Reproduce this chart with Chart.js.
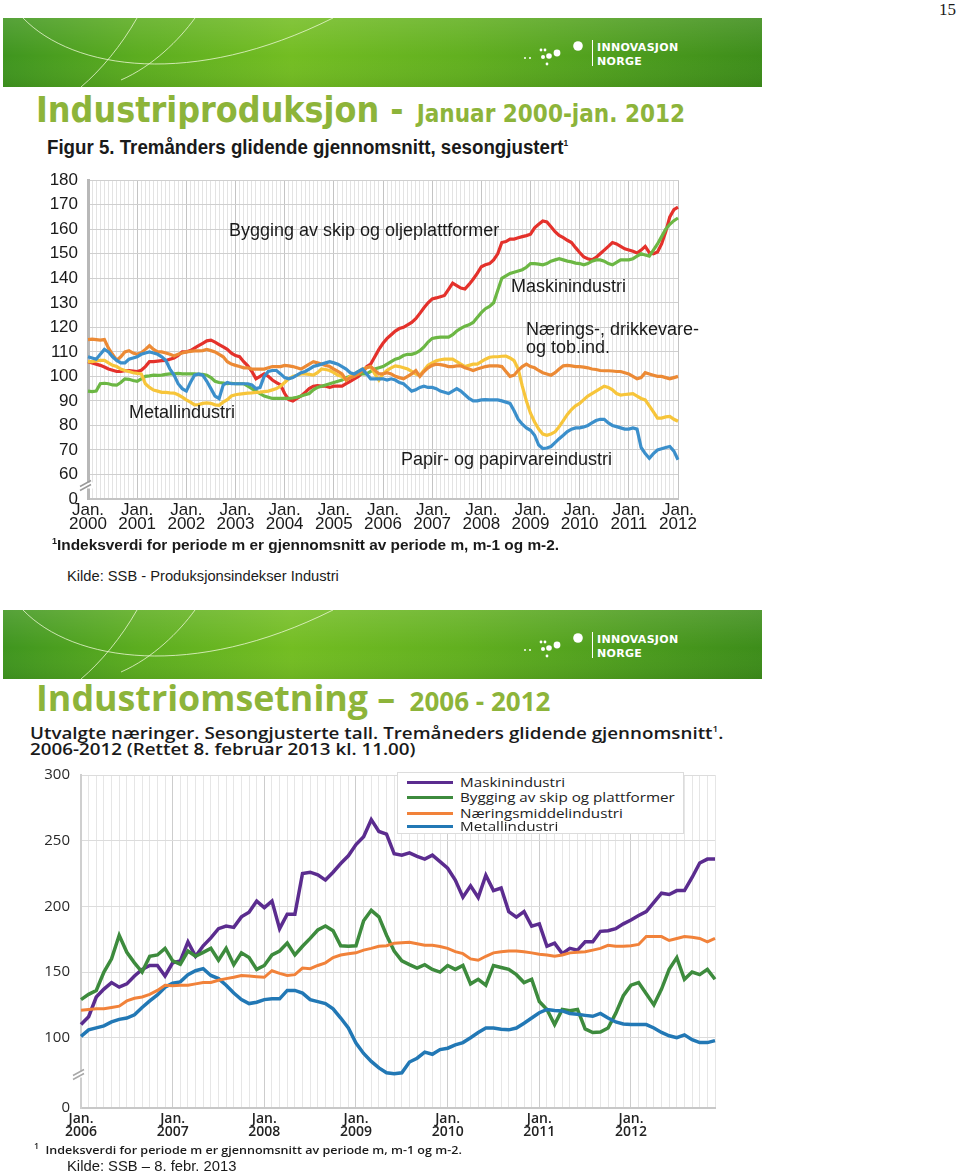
<!DOCTYPE html>
<html lang="no">
<head>
<meta charset="UTF-8">
<title>Industriproduksjon og industriomsetning</title>
<script src="https://cdn.jsdelivr.net/npm/chart.js"></script>
<style>
    html, body { margin: 0; padding: 0; background: #fff; }
    body { position: relative; width: 960px; height: 1173px; overflow: hidden; font-family: 'Liberation Sans', Arial, sans-serif; color: #1a1a1a; }
    .abs { position: absolute; white-space: nowrap; }
    .wide { transform-origin: 0 50%; }
    .banner { position: absolute; left: 3px; width: 759px; height: 69px; }
    .title1 { font-family: 'DejaVu Sans Condensed', 'DejaVu Sans', sans-serif; font-stretch: condensed; font-weight: bold; color: #8db43a; font-size: 35.5px; line-height: 35.5px; }
    .title1 small { font-size: 24px; margin-left: 2px; }
    .title2 { font-family: 'Open Sans', sans-serif; font-weight: 700; color: #8db43a; font-size: 35.8px; line-height: 42px; }
    .title2 small { font-size: 26px; margin-left: 5px; }
    .note { font-size: 18px; line-height: 1.2; color: #1a1a1a; }
    .legend { position: absolute; left: 397px; top: 772px; width: 285px; height: 60px; background: #fff; border: 1px solid #dcdcdc; }
    .legend span { position: absolute; left: 9px; width: 46px; height: 3px; }
    .legend div { position: absolute; left: 62px; line-height: 15px; white-space: nowrap; font-family: 'Open Sans', sans-serif; font-size: 13px; color: #222; transform: scaleX(1.17); transform-origin: 0 50%; }
</style>
</head>
<body>

<div class="abs" style="left:939px; top:0px; font-family:'Liberation Serif', serif; font-size:17px;">15</div>

<div class="banner" style="top:18px;"></div>
<div class="abs title1" style="left:36px; top:91.5px;">Industriproduksjon - <small>Januar 2000-jan. 2012</small></div>
<div class="abs wide" style="left:47px; top:135px; font-weight:bold; font-size:20px; line-height:1.2; transform:scaleX(0.935);">Figur 5. Tremånders glidende gjennomsnitt, sesongjustert<sup style="font-size:9px;">1</sup></div>

<canvas id="prodChart" class="abs" width="670" height="380" style="left:40px; top:160px;"></canvas>

<div class="abs note" style="left:229px; top:220px;">Bygging av skip og oljeplattformer</div>
<div class="abs note" style="left:511px; top:276px;">Maskinindustri</div>
<div class="abs note" style="left:526px; top:319px;">Nærings-, drikkevare-</div>
<div class="abs note" style="left:526px; top:337px;">og tob.ind.</div>
<div class="abs note" style="left:129px; top:402px;">Metallindustri</div>
<div class="abs note" style="left:401px; top:449px;">Papir- og papirvareindustri</div>

<div class="abs" style="left:52px; top:536px; font-size:15.4px; font-weight:bold; line-height:1.2;"><sup style="font-size:9px;">1</sup>Indeksverdi for periode m er gjennomsnitt av periode m, m-1 og m-2.</div>
<div class="abs" style="left:67px; top:568px; font-size:14.7px; line-height:1.2;">Kilde: SSB - Produksjonsindekser Industri</div>

<div class="banner" style="top:610px;"></div>
<div class="abs title2" style="left:36px; top:676px;">Industriomsetning – <small>2006 - 2012</small></div>
<div class="abs wide" style="left:30px; top:721px; font-family:'Open Sans', sans-serif; font-weight:600; font-size:17px; line-height:16px; transform:scaleX(1.105);">Utvalgte næringer. Sesongjusterte tall. Tremåneders glidende gjennomsnitt<sup style="font-size:9px;">1</sup>.<br>2006-2012 (Rettet 8. februar 2013 kl. 11.00)</div>

<canvas id="turnChart" class="abs" width="700" height="400" style="left:30px; top:755px;"></canvas>

<div class="legend">
    <span style="top:8px; background:#5b2c8f;"></span><div style="top:2px;">Maskinindustri</div>
    <span style="top:23px; background:#3d8b3d;"></span><div style="top:17px;">Bygging av skip og plattformer</div>
    <span style="top:39px; background:#f1823a;"></span><div style="top:33px;">Næringsmiddelindustri</div>
    <span style="top:52px; background:#2278b5;"></span><div style="top:46px;">Metallindustri</div>
</div>

<div class="abs wide" style="left:34px; top:1141px; font-family:'Open Sans', sans-serif; font-weight:600; font-size:11.5px; line-height:1.2; transform:scaleX(1.09);"><sup style="font-size:8px;">1</sup>&nbsp; Indeksverdi for periode m er gjennomsnitt av periode m, m-1 og m-2.</div>
<div class="abs" style="left:67px; top:1158px; font-size:14.8px; line-height:1.2;">Kilde: SSB – 8. febr. 2013</div>

<script>
// Figur 5: produksjonsindeks, jan 2000 - jan 2012 (månedlig)
const prodYears = [2000, 2001, 2002, 2003, 2004, 2005, 2006, 2007, 2008, 2009, 2010, 2011, 2012];

const prodShip = [
    106, 105.5, 105, 104.5, 103.8, 103, 102.5, 102, 102, 102.3, 102.4, 102.2,
    102, 102.5, 104, 106, 106, 106.2, 106.4, 106.5, 107, 107.5, 108.5, 110,
    110, 110.5, 111.5, 112.5, 113.5, 114.5, 114.8, 114, 113, 112, 111, 109.5,
    108.5, 108, 106, 104.3, 102, 99, 100, 101, 100, 98.5, 97.5, 96.5,
    93, 90.5, 90, 91, 92, 93.5, 95, 96, 96.2, 96, 96, 95.5,
    96, 96, 96, 97, 98, 99, 100, 101.5, 104, 105, 108, 111,
    113.5, 115.5, 117, 118.5, 119.5, 120, 121, 122, 123.5, 125.7, 128, 130,
    131.6, 132, 132.5, 133, 135.5, 138, 137, 136, 135.6, 137.5, 139.6, 142,
    144.7, 145.5, 146, 147.5, 150, 154.6, 155, 156, 156, 156.5, 157, 157.4,
    158, 160.6, 162, 163.4, 163, 161, 159, 157.5, 156.6, 155.5, 154.6, 152.5,
    150.5, 148.7, 148, 147.5, 148.5, 150, 151.5, 153, 154.6, 154, 153, 152,
    151.5, 151, 150.3, 151.5, 153, 150.5, 150, 150.7, 154, 159, 165, 168,
    169
];

const prodMachine = [
    94, 93.8, 94, 97, 97.2, 97, 96.5, 96.4, 97.5, 99, 98.8, 98.3,
    98, 99, 100, 100.2, 100.5, 100.4, 100.5, 100.8, 101, 101, 101.2, 101,
    101, 101, 101, 100.8, 100.8, 100.5, 99.5, 98, 97.5, 97.3, 97, 97.2,
    97, 97, 97, 96, 95, 94, 93, 92, 91.5, 91, 91, 91,
    91, 91, 91.2, 91.5, 92, 92.5, 93, 94.5, 95.5, 96, 96.5, 97,
    97.5, 98, 98.5, 99.5, 100, 100.5, 101, 101, 101, 102, 103, 103.5,
    104, 105, 106, 107, 107.5, 108.5, 109, 109, 109.5, 110.5, 112, 114,
    115.5, 115.8, 116, 116, 116, 117, 118.5, 119.6, 120.5, 121, 122, 124,
    126, 127.6, 128.5, 130, 135, 140, 141, 142, 142.5, 143, 143.5, 144.5,
    146, 146, 145.8, 145.5, 146, 147, 147.5, 148, 147.5, 147, 146.7, 146.2,
    146, 145.5, 146, 147, 147.5, 147.5, 147, 146, 145.5, 146.5, 147.5, 147.5,
    147.5, 148, 149, 150, 149.5, 149, 151.5, 154, 157, 160, 162, 163.5,
    164.6
];

const prodFood = [
    115, 115.2, 115, 114.8, 115, 111.5, 109, 106.6, 108, 110, 110.5, 109.5,
    109, 109.6, 111, 112.5, 111, 110, 110, 109.5, 109, 108.3, 109, 109.5,
    110, 110.2, 110.4, 110.4, 110.5, 111, 110.5, 110, 109, 108, 106, 105,
    104.5, 104, 103.5, 103.5, 103, 103, 103, 103, 103.5, 104, 104, 104,
    104.5, 104.3, 104, 103.5, 103, 104, 105, 106, 105.5, 105, 104.5, 104,
    103, 102, 101, 98.5, 99.5, 100, 101, 102.5, 103.5, 104, 102.5, 101,
    101, 101.5, 101, 100, 99.5, 99, 100, 101, 102.4, 100, 102, 103.5,
    104.5, 105, 104.8, 104.5, 104, 104, 104.3, 104.3, 103.5, 103, 102.4, 103,
    103.5, 104, 104.3, 104.3, 104.3, 104, 102, 100, 100.5, 102.5, 104, 105,
    104, 103.5, 102.4, 101.5, 101, 100.5, 101.5, 103, 104.3, 104.5, 104.3, 104,
    104, 103.8, 103.5, 103, 102.8, 102.4, 102.3, 102.3, 102.2, 102, 102, 101.5,
    101, 100, 99, 99.5, 101.5, 101, 100.5, 100, 100, 99.5, 99, 99.5,
    100
];

const prodMetal = [
    106, 106, 106.3, 106.5, 106.5, 105.5, 104.5, 104, 103, 102.4, 102, 101.5,
    101.2, 101, 97, 95.5, 94.4, 94, 93.5, 93.5, 93.3, 93.2, 92.5, 91.5,
    90.4, 89.5, 88.4, 88.5, 89, 89.2, 89, 88.4, 88.2, 89.5, 90.5, 92,
    92.5, 92.8, 93, 93.2, 93.3, 93.5, 93.6, 93.8, 94, 94.5, 95, 96,
    97.5, 99, 100, 100.5, 101, 101, 100.8, 100.5, 101.5, 103, 102.8, 102.4,
    101.5, 100.5, 100, 98.5, 100, 101, 102, 103, 103.5, 104, 101, 98.5,
    101, 102.5, 103.5, 104.3, 104, 103.5, 103, 102, 101, 100.5, 102.5, 104.5,
    105.5, 106.4, 106.8, 107, 107, 107, 106, 105, 104, 104.5, 105, 105,
    106, 107, 107.8, 108, 108, 108.2, 108.3, 107.5, 106.4, 103, 96, 90,
    85, 81.4, 78.5, 76.5, 76, 76.5, 77.4, 79.5, 82, 84.5, 86.5, 88,
    89, 90.5, 92, 93, 94, 95, 96, 95.5, 94.5, 93, 92.4, 92.6,
    92.8, 93, 92, 91, 90.4, 88, 85.5, 83, 83, 83.5, 83.7, 82.5,
    81.7
];

const prodPaper = [
    108, 107.5, 107, 109, 111, 110, 108, 106.5, 105.5, 105.5, 107, 107.5,
    108, 109, 109.5, 110, 109.5, 109, 108, 106.5, 103, 100.5, 97, 95,
    94, 97.5, 100.5, 101, 100.5, 98, 95, 92, 91, 96.5, 97.5, 97,
    97, 97, 97, 97, 96.5, 95, 95.5, 100, 102, 102.4, 102.4, 101,
    99.5, 99, 99.5, 100.5, 101.5, 102, 103, 104, 104.5, 105, 105.5, 106,
    105.5, 105, 104, 103, 101.5, 101, 102, 103, 101, 99, 99, 99,
    99, 98.5, 99, 98.5, 97.5, 97, 95.5, 94, 94.5, 95.5, 96, 95.5,
    95.5, 95, 94, 93.5, 93, 94, 95, 94, 92.5, 91, 90, 90,
    90.4, 90.5, 90.4, 90.4, 90.4, 90, 89.5, 89, 86, 82.5, 80.5, 79,
    78, 76, 72, 70.6, 70.8, 71.4, 73, 74.6, 76, 77.5, 78.5, 79,
    79, 79.4, 80, 81, 82, 82.5, 82.5, 81, 80, 79.5, 79, 78.5,
    78.5, 79, 78.5, 71, 68.5, 66.6, 68.5, 70, 70.5, 71, 71.4, 69.5,
    66
];

// Industriomsetning: jan 2006 - des 2012 (månedlig)
const turnYears = [2006, 2007, 2008, 2009, 2010, 2011, 2012];

const turnMachine = [
    110, 116, 131, 137, 142, 138.5, 141, 147, 152, 155, 155, 147,
    157, 158.5, 173, 162, 170, 176, 183, 185, 184, 192, 195.5, 204,
    199, 204, 183, 194, 194, 225, 226, 224, 220, 226, 232.6, 238.5,
    247, 253, 266, 257, 255, 240, 239, 240.7, 238, 236, 239, 234,
    229, 220, 207, 215.6, 206.7, 223.7, 212, 214, 196, 191.8, 196, 185,
    186.7, 169.6, 172, 164, 168, 166.7, 173, 173, 181, 181.5, 183, 186.7,
    189.6, 193, 196, 203, 210, 209, 212, 212, 222, 233, 236, 236
];

const turnShip = [
    129, 133, 136, 150, 160, 178, 165, 157, 150, 162, 163, 168,
    158.5, 156, 166, 162, 165, 168, 159, 168, 155.6, 164.6, 161, 152,
    155, 163, 166, 172, 163, 169.6, 175.6, 182, 185, 181.5, 170, 169.6,
    170, 189, 197, 192, 178, 166, 158.5, 155.6, 153, 155.6, 152, 150,
    155, 152, 155, 141, 144.5, 140, 155, 153.5, 152, 148, 142, 144.5,
    127.6, 121.5, 110, 121.5, 120.5, 121.5, 106.7, 104, 104.3, 107.4, 118.5, 132,
    140, 142, 133.5, 125, 137, 152, 161, 144.5, 150, 148, 152, 144.5
];

const turnFood = [
    121, 121.5, 122, 122, 123, 124, 128, 130, 131, 133, 136, 140,
    139.6, 140, 140, 141, 142, 142, 143.7, 145, 146, 147.4, 147, 146.5,
    146, 151, 149, 147.4, 148, 153, 152.6, 155, 157, 161, 163, 164,
    164.6, 166.7, 168, 169.6, 170, 172, 172.3, 172.6, 171.5, 170.4, 170.4, 169.5,
    168, 165.5, 164, 160, 159, 162, 164.6, 165.5, 166, 166, 165.5, 164.6,
    163.5, 163, 162, 163, 164.6, 165, 165.5, 166.7, 168, 170.4, 169.6, 169.6,
    170, 171, 177, 177, 177, 174, 175.5, 177, 176.5, 175.6, 173, 175.6
];

const turnMetal = [
    101, 106, 107.5, 109, 112, 114, 115, 117.5, 123, 128, 132.6, 138.5,
    141.5, 142.5, 148, 151, 152.6, 147.4, 145, 140, 134, 129, 126, 127,
    129, 129.6, 129.6, 136, 136, 134, 129, 127.5, 126, 122, 115, 107.4,
    96, 88, 82, 77, 73.3, 72.5, 73.3, 81.5, 84.4, 89, 87.4, 91,
    92, 94.5, 96.3, 100, 104, 107.4, 107.4, 106.5, 106, 107.4, 111, 115,
    119, 121.5, 120.7, 120.4, 118.5, 117.8, 117, 116.3, 118.5, 115, 112, 110.5,
    110, 110, 110, 107.4, 104, 101.5, 100, 102.2, 98.5, 96.3, 96.3, 97.8
];

const monthNames = ['jan', 'feb', 'mar', 'apr', 'mai', 'jun', 'jul', 'aug', 'sep', 'okt', 'nov', 'des'];

function monthLabels(years, count) {
    const out = [];
    years.forEach(y => monthNames.forEach(m => out.push(m + ' ' + y)));
    return out.slice(0, count);
}

// white break in the y axis ("//" between 0 and the first tick)
const axisBreak = {
    id: 'axisBreak',
    afterDraw(chart, args, opts) {
        const { ctx, chartArea } = chart;
        const x = chartArea.left;
        const y = chart.scales.y.getPixelForValue(opts.value);
        ctx.save();
        ctx.fillStyle = '#fff';
        ctx.fillRect(x - 5, y - 3, 10, 6);
        ctx.strokeStyle = opts.color;
        ctx.lineWidth = 1.5;
        ctx.beginPath();
        ctx.moveTo(x - 8, y + 1); ctx.lineTo(x + 3, y - 5);
        ctx.moveTo(x - 8, y + 5); ctx.lineTo(x + 3, y - 1);
        ctx.stroke();
        ctx.restore();
    }
};

function line(data, color, width) {
    return { data: data, borderColor: color, borderWidth: width, pointRadius: 0, tension: 0, fill: false };
}

Chart.defaults.font.family = "'Liberation Sans', Arial, sans-serif";

new Chart(document.getElementById('prodChart'), {
    type: 'line',
    data: {
        labels: monthLabels(prodYears, prodShip.length),
        datasets: [
            line(prodPaper, '#3b8fcb', 3.2),
            line(prodFood, '#ec8a35', 3.2),
            line(prodMetal, '#f7c53a', 3.2),
            line(prodMachine, '#6cb744', 3.2),
            line(prodShip, '#e4312b', 3.2)
        ]
    },
    plugins: [axisBreak],
    options: {
        responsive: false,
        animation: false,
        devicePixelRatio: 1,
        layout: { padding: { top: 11, right: 32, left: 0, bottom: 0 } },
        plugins: {
            legend: { display: false },
            tooltip: { enabled: false },
            axisBreak: { value: 55.5, color: '#9a9a9a' }
        },
        scales: {
            x: {
                afterFit: s => { s.height = 41; },
                grid: { color: c => c.index % 12 === 0 ? '#c4c4c4' : '#e3e3e3', drawTicks: false },
                border: { color: '#c4c4c4', width: 2 },
                ticks: {
                    autoSkip: false, maxRotation: 0, minRotation: 0, padding: 4,
                    color: '#1a1a1a', font: { size: 17, lineHeight: 0.85 },
                    callback: (v, i) => i % 12 === 0 ? ['Jan.', String(prodYears[i / 12])] : ''
                }
            },
            y: {
                min: 50, max: 180,
                afterFit: s => { s.width = 48; },
                grid: { color: '#cfcfcf', drawTicks: false },
                border: { color: '#b8b8b8', width: 3 },
                ticks: {
                    stepSize: 10, padding: 10, color: '#1a1a1a', font: { size: 17 },
                    callback: v => v === 50 ? '0' : v
                }
            }
        }
    }
});

const turnTicks = [46.5, 100, 150, 200, 250, 300];

new Chart(document.getElementById('turnChart'), {
    type: 'line',
    data: {
        labels: monthLabels(turnYears, turnMachine.length),
        datasets: [
            line(turnFood, '#f1823a', 3),
            line(turnMetal, '#2278b5', 3.5),
            line(turnShip, '#3d8b3d', 3.5),
            line(turnMachine, '#5b2c8f', 3.5)
        ]
    },
    plugins: [axisBreak],
    options: {
        responsive: false,
        animation: false,
        devicePixelRatio: 1,
        layout: { padding: { top: 12, right: 15, left: 0, bottom: 0 } },
        plugins: {
            legend: { display: false },
            tooltip: { enabled: false },
            axisBreak: { value: 72, color: '#a8a8a8' }
        },
        scales: {
            x: {
                afterFit: s => { s.height = 47; },
                grid: { color: c => c.index % 12 === 0 ? '#cdcdcd' : '#e6e6e6', drawTicks: false },
                border: { color: '#c8c8c8', width: 2 },
                ticks: {
                    autoSkip: false, maxRotation: 0, minRotation: 0, padding: 5,
                    color: '#222', font: { family: "'Open Sans', sans-serif", size: 14, weight: '600', lineHeight: 0.92 },
                    callback: (v, i) => i % 12 === 0 ? ['Jan.', String(turnYears[i / 12])] : ''
                }
            },
            y: {
                min: 46.5, max: 300,
                afterFit: s => { s.width = 51; },
                afterBuildTicks: s => { s.ticks = turnTicks.map(v => ({ value: v })); },
                grid: { color: '#dcdcdc', drawTicks: false },
                border: { color: '#cfcfcf', width: 2 },
                ticks: {
                    padding: 11, color: '#2a2a2a', font: { family: "'Open Sans', sans-serif", size: 15 },
                    callback: v => v === 46.5 ? '0' : v
                }
            }
        }
    }
});

// banner graphics (same for both slides)
const bannerSvg = `
<svg width="759" height="69" xmlns="http://www.w3.org/2000/svg">
  <defs>
    <linearGradient id="bgH" x1="0" x2="1" y1="0" y2="0">
      <stop offset="0" stop-color="#3f951f"/>
      <stop offset="0.18" stop-color="#5cad1f"/>
      <stop offset="0.38" stop-color="#73bd22"/>
      <stop offset="0.6" stop-color="#62b01f"/>
      <stop offset="0.85" stop-color="#4a9a1d"/>
      <stop offset="1" stop-color="#3d8d1a"/>
    </linearGradient>
    <linearGradient id="bgV" x1="0" x2="0" y1="0" y2="1">
      <stop offset="0" stop-color="#fff" stop-opacity="0.12"/>
      <stop offset="0.55" stop-color="#fff" stop-opacity="0"/>
      <stop offset="1" stop-color="#000" stop-opacity="0.06"/>
    </linearGradient>
  </defs>
  <rect width="759" height="69" fill="url(#bgH)"/>
  <rect width="759" height="69" fill="url(#bgV)"/>
  <g fill="none" stroke="#eaf6d2" stroke-opacity="0.8" stroke-width="1">
    <path d="M 20 0 C 70 52, 190 70, 330 0"/>
    <path d="M 134 0 C 118 28, 98 52, 78 69"/>
    <path d="M 192 0 C 176 22, 150 48, 118 62"/>
  </g>
  <g fill="#fff">
    <circle cx="522" cy="40" r="1"/>
    <circle cx="527" cy="40" r="1"/>
    <circle cx="538" cy="32" r="1.4"/>
    <circle cx="542" cy="32" r="1.4"/>
    <circle cx="540" cy="39" r="2"/>
    <circle cx="546" cy="38" r="2.8"/>
    <circle cx="544" cy="46" r="1.4"/>
    <circle cx="554" cy="35" r="3.4"/>
    <circle cx="575" cy="28" r="4.8"/>
  </g>
  <rect x="589" y="22" width="1" height="26" fill="#fff"/>
  <g fill="#fff" font-family="'DejaVu Sans', sans-serif" font-weight="bold" font-size="11">
    <text x="594" y="33" letter-spacing="0.3">INNOVASJON</text>
    <text x="594" y="47" letter-spacing="0.3">NORGE</text>
  </g>
</svg>`;
document.querySelectorAll('.banner').forEach(b => { b.innerHTML = bannerSvg; });
</script>
</body>
</html>
